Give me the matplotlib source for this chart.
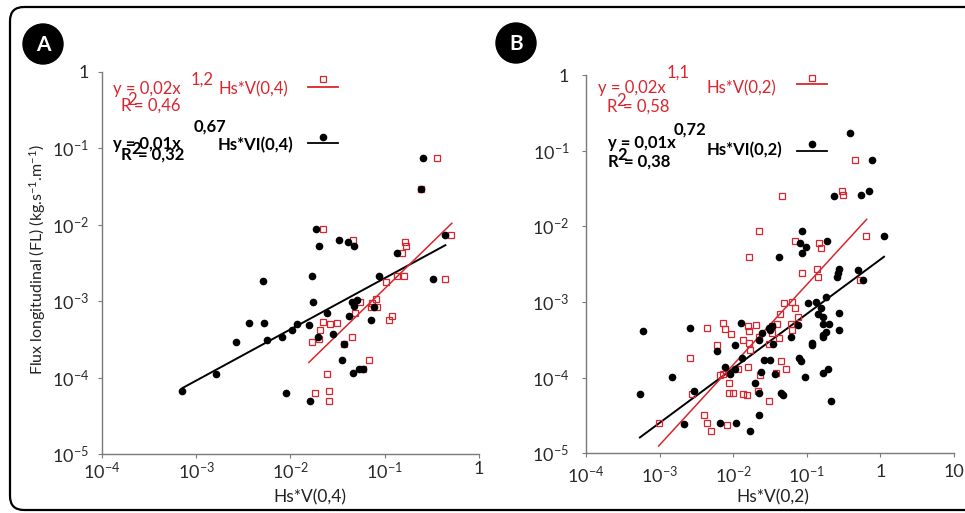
import numpy as np
import matplotlib
matplotlib.use('Agg')
import matplotlib.pyplot as plt
from matplotlib.patches import FancyBboxPatch, Circle
from matplotlib.ticker import FixedLocator, FixedFormatter, NullLocator

plt.rcParams['font.family'] = ['Lato', 'DejaVu Sans']
plt.rcParams['mathtext.fontset'] = 'custom'
plt.rcParams['mathtext.rm'] = 'Lato'
plt.rcParams['mathtext.it'] = 'Lato:italic'
plt.rcParams['mathtext.bf'] = 'Lato:bold'

RED = '#d9262e'
GREY = '#7a7a7a'
W, H = 965, 513

# ---- data, as log10 values ----
# panel A : Hs*VI(0,4) (black) and Hs*V(0,4) (red)
a_black_lx = [-0.59, -0.617, -1.727, -1.692, -1.48, -1.388, -1.324, -0.865, -0.356, -0.49,
              -1.063, -2.293, -1.77, -1.763, -1.346, -1.324, -1.29, -1.607, -1.374, -1.116,
              -1.141, -2.441, -2.282, -1.926, -1.979, -1.805, -1.703, -1.55, -2.085, -2.25,
              -2.576, -1.434, -1.452, -1.332, -1.268, -1.232, -2.791, -3.145, -2.046, -1.791]
a_black_ly = [-1.127, -1.54, -2.063, -2.281, -2.203, -2.225, -2.281, -2.376, -2.133, -2.716,
              -2.673, -2.739, -2.673, -3.013, -3.013, -3.06, -2.987, -3.161, -3.196, -3.083,
              -3.248, -3.284, -3.292, -3.301, -3.379, -3.314, -3.467, -3.431, -3.467, -3.51,
              -3.54, -3.566, -3.771, -3.937, -3.885, -3.885, -3.954, -4.176, -4.199, -4.307]
a_red_lx = [-0.441, -0.61, -1.65, -1.332, -0.787, -0.773, -0.819, -0.30, -0.356, -0.985,
            -0.865, -0.80, -1.261, -1.134, -1.091, -1.148, -1.077, -1.314, -0.922, -0.95,
            -1.65, -1.579, -1.508, -1.685, -1.699, -1.77, -1.346, -1.43, -1.166, -1.232,
            -1.607, -1.741, -1.59, -1.59]
a_red_ly = [-1.127, -1.54, -2.063, -2.203, -2.225, -2.281, -2.376, -2.133, -2.716, -2.748,
            -2.673, -2.673, -3.013, -3.022, -2.978, -3.075, -3.083, -3.161, -3.196, -3.248,
            -3.278, -3.301, -3.292, -3.379, -3.499, -3.54, -3.467, -3.566, -3.771, -3.885,
            -3.954, -4.199, -4.176, -4.307]

# panel B : Hs*VI(0,2) (black) and Hs*V(0,2) (red)
b_black_lx = [-0.413, -0.118, -0.63, -0.268, -0.159, 0.045, -1.07, -1.092, -1.007, -1.065,
              -0.73, -1.382, -0.567, -0.576, -0.594, -0.30, -0.232, -0.979, -0.875, -0.743,
              -0.852, -0.784, -0.567, -1.124, -0.775, -0.702, -0.558, -0.743, -0.775, -0.784,
              -0.933, -0.925, -1.215, -1.514, -1.469, -1.5, -1.613, -1.654, -1.464, -1.894,
              -1.971, -2.224, -1.884, -1.577, -1.5, -1.11, -1.079, -2.107, -1.976, -2.048,
              -1.618, -1.432, -0.712, -0.775, -1.029, -1.704, -1.65, -1.346, -1.319, -0.675,
              -1.654, -1.772, -2.175, -1.962, -2.668, -2.537, -2.591, -2.836, -3.221, -3.27,
              -0.807]
b_black_ly = [-0.773, -1.129, -1.605, -1.584, -1.535, -2.13, -2.063, -2.226, -2.279, -2.358,
              -2.2, -2.407, -2.565, -2.614, -2.667, -2.575, -2.715, -3.018, -2.997, -2.931,
              -3.164, -3.196, -3.151, -3.305, -3.292, -3.292, -3.371, -3.401, -3.437, -3.468,
              -3.539, -3.569, -3.468, -3.341, -3.318, -3.371, -3.415, -3.503, -3.56, -3.283,
              -3.565, -3.649, -3.745, -3.767, -3.767, -3.745, -3.777, -3.864, -3.886, -3.956,
              -3.93, -3.952, -3.886, -3.943, -3.996, -4.075, -4.2, -4.2, -4.234, -4.309,
              -4.49, -4.705, -4.6, -4.6, -4.617, -4.181, -3.349, -3.988, -3.384, -4.221,
              -3.085]
b_red_lx = [-0.345, -0.522, -0.504, -1.333, -1.65, -1.781, -1.156, -0.838, -0.811, -0.196,
            -1.065, -0.866, -0.844, -0.277, -1.197, -1.31, -1.156, -1.364, -1.12, -1.4,
            -1.219, -1.197, -1.477, -1.469, -1.374, -1.65, -1.518, -1.795, -1.79, -1.694,
            -2.139, -2.107, -2.026, -2.36, -1.863, -1.79, -1.768, -2.216, -2.583, -1.94,
            -1.804, -1.64, -2.18, -2.143, -2.057, -1.355, -1.283, -1.415, -3.012, -2.564,
            -2.393, -2.36, -2.298, -2.084, -2.061, -2.007, -1.863, -1.808, -1.667, -1.51]
b_red_ly = [-1.125, -1.535, -1.588, -1.605, -2.067, -2.407, -2.196, -2.226, -2.284, -2.13,
            -2.614, -2.57, -2.671, -2.715, -2.997, -3.018, -3.085, -3.16, -3.196, -3.292,
            -3.292, -3.371, -3.318, -3.406, -3.472, -3.468, -3.56, -3.318, -3.38, -3.305,
            -3.283, -3.358, -3.424, -3.349, -3.503, -3.539, -3.635, -3.565, -3.745, -3.886,
            -3.864, -3.966, -3.966, -3.952, -4.071, -3.777, -3.886, -3.935, -4.604, -4.221,
            -4.49, -4.6, -4.705, -4.622, -4.2, -4.2, -4.221, -4.234, -4.177, -4.309]

# power-law trend lines y = c * x^e  (black, red)
fit_coef_A = [0.0093, 0.023]
fit_exp_A = [0.67, 1.2]
fit_xmin_A = [7.2e-4, 0.0157]
fit_xmax_A = [0.44, 0.515]
fit_coef_B = [0.00365, 0.0195]
fit_exp_B = [0.72, 1.06]
fit_xmin_B = [5.4e-4, 9.7e-4]
fit_xmax_B = [1.12, 0.65]

xticks_A = [1e-4, 1e-3, 1e-2, 1e-1, 1]
xlabels_A = [r'$\mathregular{10^{-4}}$', r'$\mathregular{10^{-3}}$', r'$\mathregular{10^{-2}}$',
             r'$\mathregular{10^{-1}}$', '1']
xticks_B = [1e-4, 1e-3, 1e-2, 1e-1, 1, 10]
xlabels_B = xlabels_A + ['10']
yticks = [1e-5, 1e-4, 1e-3, 1e-2, 1e-1, 1]
ylabels = [r'$\mathregular{10^{-5}}$', r'$\mathregular{10^{-4}}$', r'$\mathregular{10^{-3}}$',
           r'$\mathregular{10^{-2}}$', r'$\mathregular{10^{-1}}$', '1']


def px(x0, y0, x1, y1):
    # pixel box -> figure fraction rect
    return [x0 / W, 1 - y1 / H, (x1 - x0) / W, (y1 - y0) / H]


fig = plt.figure(figsize=(W / 100, H / 100), dpi=100)

# background layer in pixel units for frame, badges and legend text
bg = fig.add_axes([0, 0, 1, 1])
bg.set_xlim(0, W)
bg.set_ylim(H, 0)
bg.axis('off')
bg.add_patch(FancyBboxPatch((10, 7), 985, 503, boxstyle='round,pad=0,rounding_size=14',
                            fc='none', ec='black', lw=1.6, clip_on=False))
for cx, cy, letter in [(43, 44, 'A'), (516, 43, 'B')]:
    bg.add_patch(Circle((cx, cy), 20, color='black'))
    bg.text(cx, cy + 1, letter, color='white', fontsize=15, fontweight='bold',
            ha='center', va='center')


def draw_panel(rect, xlim, xt, xl, bl, bly, rl, rly, coef, expo, xmin, xmax, xpad, ypad):
    ax = fig.add_axes(rect)
    ax.patch.set_alpha(0)
    ax.set_xscale('log')
    ax.set_yscale('log')
    for i, col in enumerate(['black', RED]):
        xs = np.logspace(np.log10(xmin[i]), np.log10(xmax[i]), 50)
        ax.plot(xs, coef[i] * xs ** expo[i], color=col, lw=1.4 if i == 0 else 1.1, zorder=1)
    ax.plot(10 ** np.array(rl), 10 ** np.array(rly), ls='none', marker='s', ms=4,
            mfc='none', mec=RED, mew=0.9, zorder=2)
    ax.plot(10 ** np.array(bl), 10 ** np.array(bly), ls='none', marker='o', ms=4.5,
            color='black', zorder=3)
    ax.set_xlim(*xlim)
    ax.set_ylim(1e-5, 1)
    ax.xaxis.set_major_locator(FixedLocator(xt))
    ax.xaxis.set_major_formatter(FixedFormatter(xl))
    ax.yaxis.set_major_locator(FixedLocator(yticks))
    ax.yaxis.set_major_formatter(FixedFormatter(ylabels))
    ax.xaxis.set_minor_locator(NullLocator())
    ax.yaxis.set_minor_locator(NullLocator())
    for s in ['top', 'right']:
        ax.spines[s].set_visible(False)
    for s in ['left', 'bottom']:
        ax.spines[s].set_color(GREY)
        ax.spines[s].set_linewidth(1.0)
    ax.tick_params(axis='both', colors=GREY, length=3, width=0.8, labelcolor='#2a2a2a',
                   labelsize=13)
    ax.tick_params(axis='x', pad=xpad)
    ax.tick_params(axis='y', pad=ypad)
    return ax


draw_panel(px(101.7, 71.5, 479, 454), (1e-4, 1), xticks_A, xlabels_A,
           a_black_lx, a_black_ly, a_red_lx, a_red_ly,
           fit_coef_A, fit_exp_A, fit_xmin_A, fit_xmax_A, 2, 6)
draw_panel(px(586, 75, 954, 453.3), (1e-4, 10), xticks_B, xlabels_B,
           b_black_lx, b_black_ly, b_red_lx, b_red_ly,
           fit_coef_B, fit_exp_B, fit_xmin_B, fit_xmax_B, 5, 9)

# axis titles
bg.text(37.5, 375, r'Flux longitudinal (FL) (kg.s$^{-1}$.m$^{-1}$)', rotation=90,
        rotation_mode='anchor', ha='left', va='center', fontsize=11.5, color='#222222')
bg.text(310, 502, 'Hs*V(0,4)', ha='center', va='baseline', fontsize=12.5, color='#222222')
bg.text(773, 502, 'Hs*V(0,2)', ha='center', va='baseline', fontsize=12.5, color='#222222')


# in-plot legends: equation, exponent, R, 2, "= r2", series name
def legend_block(x_eq, y_eq, eq, x_sup, y_sup, sup, x_r, y_r, x_2, y_2, r2,
                 x_name, y_name, name, mx, my, ly, color, bold, marker):
    fw = 'bold' if bold else 'normal'
    kw = dict(color=color, fontsize=12, fontweight=fw, ha='left', va='baseline')
    bg.text(x_eq, y_eq, eq, **kw)
    bg.text(x_sup, y_sup, sup, **kw)
    bg.text(x_r, y_r, 'R', **kw)
    bg.text(x_2, y_2, '2', **kw)
    bg.text(x_2 + 7, y_r, r2, **kw)
    bg.text(x_name, y_name, name, **kw)
    bg.plot([mx - 15, mx + 15], [ly, ly], color=color, lw=1.3)
    if marker == 's':
        bg.plot(mx, my, 's', ms=4, mfc='none', mec=color, mew=0.9)
    else:
        bg.plot(mx, my, 'o', ms=4.5, color=color)


legend_block(113, 94, 'y = 0,02x', 190.7, 85, '1,2', 120, 111, 127, 105, '= 0,46',
             218, 94, 'Hs*V(0,4)', 323, 79, 87, RED, False, 's')
legend_block(113, 149, 'y = 0,01x', 193.3, 131.7, '0,67', 120.7, 160, 131, 154, '= 0,32',
             218, 150.7, 'Hs*VI(0,4)', 323, 137, 143, 'black', True, 'o')
legend_block(598, 93, 'y = 0,02x', 666.7, 78, '1,1', 606.7, 112, 616, 106, '= 0,58',
             706.7, 93, 'Hs*V(0,2)', 812, 78, 84, RED, False, 's')
legend_block(608, 148, 'y = 0,01x', 673.3, 135, '0,72', 607.3, 166.7, 617, 160, '= 0,38',
             706.7, 155, 'Hs*VI(0,2)', 812, 144, 151, 'black', True, 'o')

fig.savefig('out.png', dpi=100)
